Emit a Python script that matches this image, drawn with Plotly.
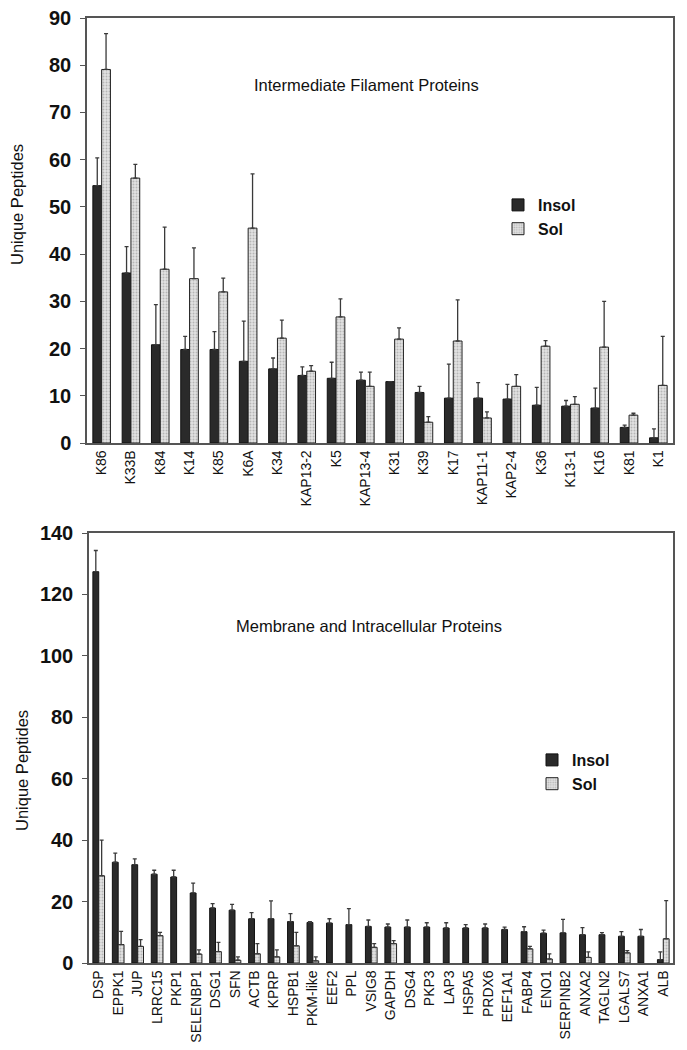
import plotly.graph_objects as go

# ---------------- Data: Intermediate Filament Proteins ----------------
cats_if = ["K86", "K33B", "K84", "K14", "K85", "K6A", "K34", "KAP13-2", "K5", "KAP13-4",
           "K31", "K39", "K17", "KAP11-1", "KAP2-4", "K36", "K13-1", "K16", "K81", "K1"]
insol_if = [54.5, 36.0, 20.8, 19.8, 19.8, 17.3, 15.7, 14.3, 13.7, 13.3,
            13.0, 10.7, 9.5, 9.5, 9.3, 8.0, 7.8, 7.4, 3.3, 1.1]
insol_if_sd = [5.9, 5.6, 8.5, 2.8, 3.8, 8.5, 2.3, 1.8, 3.4, 1.7,
               None, 1.3, 7.2, 3.3, 3.1, 3.8, 1.2, 4.2, 0.5, 1.9]
sol_if = [79.1, 56.1, 36.8, 34.8, 32.0, 45.5, 22.2, 15.2, 26.7, 12.0,
          22.0, 4.4, 21.6, 5.3, 12.0, 20.5, 8.2, 20.3, 5.9, 12.2]
sol_if_sd = [7.6, 2.9, 8.9, 6.5, 2.9, 11.5, 3.8, 1.2, 3.8, 3.0,
             2.4, 1.2, 8.7, 1.3, 2.5, 1.2, 1.6, 9.7, 0.4, 10.4]

# ---------------- Data: Membrane and Intracellular Proteins ----------------
cats_mi = ["DSP", "EPPK1", "JUP", "LRRC15", "PKP1", "SELENBP1", "DSG1", "SFN", "ACTB", "KPRP",
           "HSPB1", "PKM-like", "EEF2", "PPL", "VSIG8", "GAPDH", "DSG4", "PKP3", "LAP3", "HSPA5",
           "PRDX6", "EEF1A1", "FABP4", "ENO1", "SERPINB2", "ANXA2", "TAGLN2", "LGALS7", "ANXA1", "ALB"]
insol_mi = [127.4, 32.8, 32.0, 28.9, 28.0, 22.8, 17.9, 17.2, 14.4, 14.4,
            13.5, 13.2, 13.0, 12.5, 11.9, 11.7, 11.7, 11.7, 11.4, 11.4,
            11.4, 10.9, 10.2, 9.7, 9.8, 9.2, 9.2, 8.7, 8.7, 1.1]
insol_mi_sd = [6.9, 3.0, 1.9, 1.3, 2.2, 3.2, 1.4, 1.9, 2.0, 5.8,
               2.6, 0.3, 1.4, 5.2, 2.1, 1.0, 2.3, 1.4, 1.7, 1.1,
               1.3, 0.8, 1.6, 1.0, 4.4, 2.3, 0.7, 1.5, 2.2, 2.5]
sol_mi = [28.4, 6.0, 5.4, 8.9, None, 2.9, 3.7, 0.9, 3.0, 2.0,
          5.6, 0.7, None, None, 5.1, 6.3, None, None, None, None,
          None, None, 4.6, 1.3, None, 1.8, None, 3.3, None, 7.9]
sol_mi_sd = [11.6, 4.3, 2.2, 1.1, None, 1.4, 3.0, 1.1, 3.3, 2.3,
             4.4, 1.3, None, None, 1.2, 1.0, None, None, None, None,
             None, None, 0.8, 1.7, None, 1.8, None, 0.7, None, 12.4]

FONT = "Liberation Sans, Arial, sans-serif"
W, H = 687, 1050
OFF = 8  # page body margin offset

INSOL_COLOR = "#2a2a2a"
SOL_COLOR = "#d6d6d6"


def zeros_like(lst):
    return [0 if v is not None else None for v in lst]


def insol_trace(x, y, sd, xa, ya, legend):
    return go.Bar(
        x=x, y=y, name="Insol", xaxis=xa, yaxis=ya, legend=legend,
        marker=dict(color=INSOL_COLOR, line=dict(color="#111111", width=1)),
        error_y=dict(type="data", symmetric=False, array=sd, arrayminus=zeros_like(sd),
                     color="#3a3a3a", thickness=1.3, width=2),
    )


def sol_trace(x, y, sd, xa, ya, legend):
    return go.Bar(
        x=x, y=y, name="Sol", xaxis=xa, yaxis=ya, legend=legend,
        marker=dict(color=SOL_COLOR, line=dict(color="#222222", width=1),
                    pattern=dict(shape=".", fgcolor="#8a8a8a", bgcolor="#e2e2e2",
                                 size=3, solidity=0.35)),
        error_y=dict(type="data", symmetric=False, array=sd, arrayminus=zeros_like(sd),
                     color="#3a3a3a", thickness=1.3, width=2),
    )


fig = go.Figure()
fig.add_trace(insol_trace(cats_if, insol_if, insol_if_sd, "x", "y", "legend"))
fig.add_trace(sol_trace(cats_if, sol_if, sol_if_sd, "x", "y", "legend"))
fig.add_trace(insol_trace(cats_mi, insol_mi, insol_mi_sd, "x2", "y2", "legend2"))
fig.add_trace(sol_trace(cats_mi, sol_mi, sol_mi_sd, "x2", "y2", "legend2"))


def px_x(p):
    return (p - OFF) / W


def px_y(p):
    return 1 - (p - OFF) / H


xaxis_common = dict(
    showline=True, linecolor="#555555", linewidth=1.5, mirror=True,
    ticks="", showgrid=False, tickangle=-90, automargin=False,
    ticklabeloverflow="allow",
    tickfont=dict(family=FONT, size=14, color="#111111"),
)
yaxis_common = dict(
    showline=True, linecolor="#555555", linewidth=1.5, mirror=True,
    ticks="outside", ticklen=5, tickcolor="#555555", showgrid=False, zeroline=False,
    ticklabelstandoff=5, automargin=False, ticklabeloverflow="allow",
    tickfont=dict(family=FONT, size=20, color="#111111", weight="bold"),
)

legend_font = dict(family=FONT, size=16, color="#111111", weight="bold")


def ann(text, x, y, angle=0):
    return dict(text=text, x=px_x(x), y=px_y(y), textangle=angle,
                xref="paper", yref="paper", xanchor="center", yanchor="middle",
                showarrow=False, font=dict(family=FONT, size=16.5, color="#111111"))


fig.update_layout(
    width=W, height=H,
    margin=dict(l=0, r=0, t=0, b=0, pad=0, autoexpand=False),
    paper_bgcolor="white", plot_bgcolor="white",
    barmode="group", bargap=0.4, bargroupgap=0.0,
    font=dict(family=FONT, color="#111111"),
    xaxis=dict(domain=[px_x(87), px_x(673)], anchor="y", **xaxis_common),
    yaxis=dict(domain=[px_y(443), px_y(18)], anchor="x", range=[0, 90], dtick=10, **yaxis_common),
    xaxis2=dict(domain=[px_x(89), px_x(673)], anchor="y2", **xaxis_common),
    yaxis2=dict(domain=[px_y(963), px_y(533)], anchor="x2", range=[0, 140], dtick=20, **yaxis_common),
    legend=dict(x=px_x(498), y=px_y(188), xanchor="left", yanchor="top",
                bgcolor="rgba(0,0,0,0)", tracegroupgap=0, font=legend_font),
    legend2=dict(x=px_x(532), y=px_y(743), xanchor="left", yanchor="top",
                 bgcolor="rgba(0,0,0,0)", tracegroupgap=0, font=legend_font),
    annotations=[
        ann("Intermediate Filament Proteins", 366, 85),
        ann("Membrane and Intracellular Proteins", 369, 626),
        ann("Unique Peptides", 17, 205, -90),
        ann("Unique Peptides", 22, 771, -90),
    ],
)

fig.write_html("out.html")
